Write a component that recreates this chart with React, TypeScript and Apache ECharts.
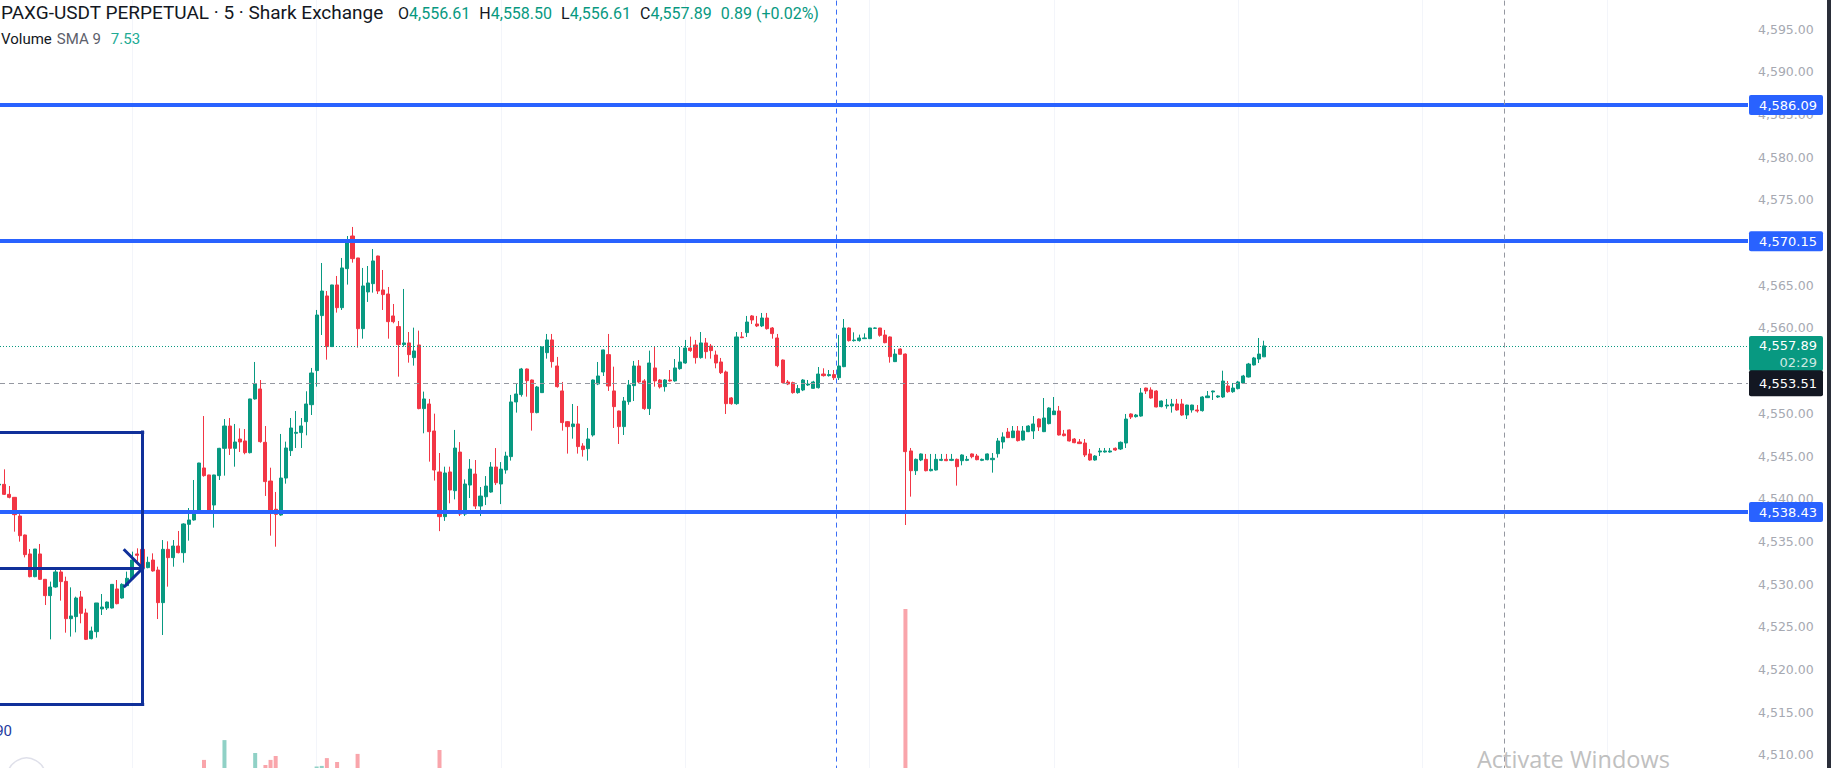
import React, { useEffect, useRef } from "react";
import * as echarts from "echarts";

// ---- candle data (5-minute bars), first value is bar index -1 ----
const FIRST_BAR = -1;
const opens: number[] = [
  4541.60, 4541.68, 4540.51, 4540.16, 4537.97, 4535.75, 4533.53, 4530.87, 4533.53, 4530.56,
  4528.65, 4529.66, 4531.42, 4530.32, 4525.95, 4526.19, 4528.49, 4526.62, 4523.61, 4524.43,
  4527.09, 4527.20, 4527.20, 4529.43, 4528.37, 4529.82, 4530.60, 4533.53, 4534.07, 4531.93,
  4532.82, 4531.65, 4527.83, 4534.07, 4533.10, 4534.46, 4533.68, 4537.00, 4537.51, 4538.36,
  4543.60, 4542.78, 4539.26, 4542.70, 4545.90, 4548.51, 4545.90, 4546.99, 4546.76, 4545.39,
  4551.68, 4552.85, 4546.60, 4542.07, 4538.76, 4538.09, 4542.42, 4545.63, 4547.66, 4547.74,
  4549.02, 4551.01, 4555.00, 4561.44, 4563.74, 4557.81, 4565.03, 4562.37, 4566.94, 4570.76,
  4568.19, 4559.91, 4564.21, 4565.18, 4568.42, 4564.44, 4563.97, 4561.40, 4560.15, 4558.04,
  4558.24, 4556.52, 4558.00, 4550.55, 4551.09, 4547.93, 4543.13, 4537.90, 4543.13, 4540.94,
  4545.46, 4538.20, 4541.60, 4542.89, 4539.14, 4540.23, 4540.78, 4543.71, 4541.72, 4543.36,
  4544.93, 4551.33, 4552.19, 4555.19, 4553.90, 4550.08, 4552.42, 4557.10, 4558.59, 4555.54,
  4552.62, 4549.02, 4548.44, 4548.75, 4546.17, 4545.86, 4547.46, 4553.43, 4554.84, 4556.87,
  4552.62, 4550.27, 4548.44, 4551.36, 4553.24, 4555.54, 4553.79, 4550.55, 4555.31, 4553.90,
  4553.12, 4553.90, 4553.79, 4555.23, 4555.89, 4557.65, 4558.00, 4556.52, 4558.24, 4557.88,
  4556.83, 4556.01, 4554.84, 4551.80, 4551.13, 4558.94, 4559.45, 4561.40, 4560.46, 4560.23,
  4561.16, 4559.99, 4558.82, 4556.24, 4553.67, 4553.59, 4552.42, 4552.73, 4553.32, 4552.92,
  4553.00, 4554.60, 4554.41, 4554.53, 4554.17, 4555.46, 4559.99, 4558.51, 4558.51, 4558.74,
  4558.74, 4559.95, 4559.99, 4559.17, 4558.94, 4556.05, 4557.53, 4556.94, 4545.59, 4543.28,
  4544.53, 4544.61, 4543.28, 4543.36, 4544.49, 4544.61, 4544.49, 4544.61, 4544.45, 4544.49,
  4545.24, 4545.00, 4544.49, 4544.57, 4544.57, 4545.27, 4546.64, 4547.81, 4547.15, 4547.93,
  4546.87, 4547.85, 4547.93, 4549.33, 4547.85, 4548.79, 4549.84, 4550.27, 4547.58, 4548.05,
  4546.99, 4546.64, 4546.52, 4545.24, 4544.53, 4545.47, 4545.47, 4545.47, 4545.90, 4545.82,
  4546.52, 4549.92, 4549.61, 4549.68, 4552.96, 4552.73, 4552.61, 4550.78, 4550.86, 4550.86,
  4551.09, 4551.09, 4549.80, 4550.39, 4550.39, 4550.31, 4551.83, 4552.50, 4551.91, 4551.91,
  4553.20, 4552.53, 4552.89, 4553.55, 4554.25, 4555.66, 4556.36, 4556.61,
];
const highs: number[] = [
  4541.90, 4543.44, 4541.49, 4540.20, 4538.20, 4535.80, 4534.11, 4534.11, 4534.70, 4530.60,
  4530.29, 4531.96, 4531.96, 4530.87, 4529.62, 4528.53, 4529.19, 4527.12, 4525.02, 4527.79,
  4528.84, 4527.95, 4530.00, 4530.48, 4530.09, 4531.46, 4533.80, 4534.19, 4534.19, 4533.21,
  4533.60, 4532.04, 4535.16, 4535.01, 4535.16, 4536.22, 4537.12, 4538.91, 4542.19, 4544.20,
  4549.68, 4542.80, 4542.80, 4545.95, 4549.33, 4549.45, 4548.75, 4548.24, 4548.16, 4551.70,
  4556.01, 4553.90, 4548.51, 4543.63, 4540.79, 4547.58, 4546.68, 4549.45, 4550.27, 4549.45,
  4552.58, 4555.31, 4562.10, 4567.60, 4564.32, 4565.05, 4566.08, 4568.19, 4570.76, 4571.82,
  4568.20, 4567.02, 4567.25, 4569.24, 4568.45, 4566.78, 4564.79, 4562.80, 4560.81, 4564.56,
  4559.52, 4560.03, 4559.68, 4552.54, 4551.68, 4549.96, 4545.35, 4543.75, 4543.75, 4548.05,
  4546.63, 4542.26, 4544.64, 4544.53, 4541.37, 4542.65, 4544.29, 4545.93, 4544.29, 4545.50,
  4552.15, 4553.43, 4555.31, 4555.25, 4553.95, 4553.20, 4557.80, 4559.29, 4559.29, 4556.60,
  4553.67, 4549.10, 4551.09, 4550.86, 4546.50, 4548.28, 4553.95, 4556.01, 4557.45, 4559.29,
  4555.46, 4550.30, 4551.91, 4553.90, 4556.13, 4556.24, 4554.00, 4557.34, 4557.77, 4554.00,
  4554.00, 4555.07, 4556.36, 4557.77, 4558.59, 4558.98, 4558.59, 4559.52, 4558.82, 4558.12,
  4557.34, 4556.48, 4555.00, 4551.90, 4559.52, 4559.52, 4561.40, 4561.50, 4561.40, 4561.75,
  4561.75, 4560.10, 4559.29, 4556.30, 4553.90, 4553.70, 4553.32, 4554.00, 4553.90, 4553.80,
  4555.42, 4555.27, 4555.07, 4555.07, 4559.17, 4561.04, 4560.05, 4559.48, 4559.21, 4559.36,
  4560.00, 4560.05, 4560.00, 4559.76, 4559.00, 4557.53, 4557.60, 4557.00, 4545.94, 4544.70,
  4545.30, 4545.24, 4545.24, 4545.24, 4545.24, 4545.24, 4545.24, 4544.70, 4545.20, 4545.00,
  4545.30, 4545.24, 4544.70, 4545.30, 4545.35, 4547.11, 4547.77, 4548.28, 4548.51, 4548.51,
  4548.51, 4548.60, 4549.68, 4549.40, 4551.79, 4550.70, 4551.91, 4550.86, 4548.05, 4548.10,
  4547.10, 4546.99, 4546.99, 4545.82, 4545.10, 4545.94, 4545.94, 4545.94, 4546.00, 4546.70,
  4549.92, 4550.00, 4549.92, 4552.96, 4553.00, 4553.04, 4552.70, 4551.50, 4551.68, 4551.68,
  4551.68, 4551.68, 4551.00, 4551.00, 4550.97, 4552.00, 4552.61, 4552.65, 4552.10, 4554.99,
  4553.78, 4553.55, 4553.80, 4554.50, 4555.90, 4556.60, 4558.82, 4558.50,
];
const lows: number[] = [
  4541.40, 4540.43, 4540.04, 4536.14, 4534.97, 4533.13, 4530.79, 4530.80, 4530.48, 4527.55,
  4523.53, 4529.58, 4528.06, 4524.31, 4523.85, 4524.35, 4525.41, 4523.45, 4523.53, 4523.73,
  4526.38, 4526.97, 4527.15, 4527.63, 4528.29, 4529.74, 4530.55, 4532.63, 4531.85, 4531.85,
  4531.46, 4525.91, 4524.04, 4529.70, 4532.04, 4533.60, 4532.51, 4535.09, 4537.43, 4538.30,
  4542.58, 4538.60, 4536.61, 4542.19, 4542.70, 4545.12, 4543.75, 4545.47, 4545.20, 4545.30,
  4551.60, 4546.56, 4540.32, 4535.67, 4534.38, 4538.00, 4541.76, 4545.00, 4545.94, 4545.94,
  4547.42, 4549.80, 4553.12, 4559.17, 4556.28, 4557.80, 4561.79, 4562.10, 4565.07, 4567.64,
  4557.69, 4558.74, 4563.04, 4564.13, 4563.97, 4562.10, 4558.74, 4560.54, 4554.29, 4557.81,
  4555.93, 4555.58, 4550.47, 4547.66, 4544.34, 4542.12, 4536.20, 4537.40, 4539.46, 4539.92,
  4537.97, 4537.97, 4540.08, 4538.79, 4537.97, 4539.26, 4540.70, 4541.60, 4539.37, 4542.93,
  4544.46, 4550.08, 4551.95, 4551.95, 4547.97, 4550.00, 4552.40, 4556.40, 4555.35, 4553.00,
  4547.97, 4545.28, 4547.03, 4545.28, 4544.93, 4544.46, 4547.27, 4553.30, 4554.37, 4552.62,
  4548.28, 4546.41, 4547.46, 4551.00, 4551.44, 4553.50, 4550.40, 4549.80, 4553.12, 4552.90,
  4552.54, 4553.70, 4553.70, 4555.10, 4555.80, 4557.20, 4555.82, 4556.40, 4556.40, 4556.40,
  4555.27, 4554.60, 4549.92, 4551.00, 4551.00, 4558.80, 4558.94, 4560.46, 4560.10, 4560.10,
  4559.80, 4558.74, 4555.40, 4553.50, 4553.30, 4552.30, 4552.30, 4552.60, 4553.20, 4552.88,
  4552.90, 4554.30, 4554.30, 4553.90, 4553.90, 4555.40, 4558.40, 4558.40, 4558.40, 4558.70,
  4558.70, 4559.90, 4558.97, 4558.20, 4555.93, 4556.00, 4556.90, 4536.92, 4540.24, 4542.78,
  4544.40, 4543.20, 4543.20, 4543.30, 4544.40, 4544.40, 4544.40, 4541.53, 4543.91, 4544.40,
  4544.73, 4544.50, 4544.40, 4544.50, 4543.05, 4544.81, 4545.86, 4547.10, 4547.10, 4546.70,
  4546.80, 4547.80, 4546.99, 4547.93, 4547.80, 4548.70, 4549.80, 4547.40, 4547.30, 4546.70,
  4546.50, 4546.40, 4544.88, 4544.45, 4544.45, 4545.00, 4545.40, 4545.40, 4545.60, 4545.70,
  4545.94, 4549.33, 4549.50, 4549.60, 4552.26, 4551.70, 4550.70, 4550.70, 4550.54, 4550.08,
  4550.30, 4549.70, 4549.33, 4550.08, 4550.08, 4550.20, 4551.80, 4551.56, 4551.80, 4551.80,
  4552.40, 4552.40, 4552.80, 4553.50, 4554.20, 4555.60, 4555.89, 4556.61,
];
const closes: number[] = [
  4541.70, 4540.51, 4540.16, 4538.13, 4535.67, 4533.45, 4530.87, 4534.11, 4530.56, 4528.65,
  4529.66, 4531.42, 4530.29, 4525.95, 4526.27, 4528.37, 4526.58, 4523.53, 4524.51, 4527.79,
  4527.32, 4527.90, 4529.97, 4527.71, 4529.97, 4530.68, 4532.82, 4533.37, 4531.93, 4532.55,
  4531.54, 4527.83, 4534.07, 4533.10, 4534.46, 4533.68, 4537.04, 4537.51, 4538.44, 4544.18,
  4542.70, 4538.68, 4542.78, 4545.90, 4548.51, 4545.90, 4546.64, 4546.64, 4545.39, 4551.68,
  4553.43, 4546.68, 4542.00, 4538.68, 4538.17, 4542.42, 4545.94, 4548.28, 4547.77, 4548.52,
  4551.09, 4554.72, 4561.51, 4564.32, 4557.81, 4565.03, 4562.37, 4567.02, 4570.26, 4568.11,
  4559.91, 4564.91, 4565.26, 4567.84, 4564.32, 4563.90, 4560.73, 4560.73, 4558.04, 4558.24,
  4556.87, 4557.30, 4550.55, 4551.68, 4547.85, 4543.36, 4537.90, 4543.01, 4541.02, 4545.93,
  4538.20, 4541.72, 4543.47, 4539.14, 4540.31, 4541.48, 4543.71, 4541.87, 4543.47, 4545.00,
  4551.33, 4552.26, 4555.19, 4553.82, 4550.08, 4553.08, 4557.77, 4558.59, 4556.05, 4553.12,
  4548.91, 4548.44, 4548.75, 4546.10, 4545.75, 4546.99, 4553.90, 4554.37, 4557.42, 4553.20,
  4550.78, 4548.44, 4551.44, 4553.32, 4555.54, 4553.67, 4550.55, 4555.89, 4553.79, 4553.08,
  4553.90, 4553.79, 4555.31, 4556.01, 4557.65, 4557.34, 4556.52, 4558.24, 4557.22, 4557.34,
  4555.89, 4554.76, 4551.13, 4551.13, 4558.94, 4558.86, 4560.69, 4560.93, 4560.23, 4561.16,
  4559.91, 4559.33, 4555.58, 4553.59, 4553.43, 4552.42, 4552.89, 4553.90, 4553.43, 4553.67,
  4554.60, 4554.41, 4554.53, 4554.17, 4555.54, 4559.99, 4558.51, 4558.58, 4558.82, 4558.82,
  4559.99, 4559.99, 4559.13, 4558.27, 4556.63, 4556.94, 4556.91, 4545.51, 4543.28, 4544.61,
  4545.24, 4543.28, 4543.44, 4544.61, 4544.61, 4544.45, 4544.61, 4543.75, 4545.12, 4544.61,
  4544.92, 4544.57, 4544.61, 4545.24, 4544.73, 4546.76, 4547.23, 4547.15, 4547.93, 4546.80,
  4547.93, 4548.51, 4548.75, 4548.40, 4549.45, 4550.62, 4550.27, 4547.46, 4547.38, 4546.76,
  4546.56, 4546.45, 4545.12, 4544.53, 4545.00, 4545.59, 4545.59, 4545.59, 4545.70, 4546.60,
  4549.33, 4549.57, 4549.80, 4552.38, 4552.61, 4551.79, 4550.74, 4551.44, 4550.97, 4551.09,
  4550.39, 4549.80, 4550.97, 4550.97, 4550.27, 4551.91, 4552.03, 4552.61, 4552.03, 4553.78,
  4552.53, 4552.96, 4553.67, 4554.37, 4555.77, 4556.48, 4556.94, 4557.89,
];

// volume bars that reach into the visible area (others are below the frame)
const volumeBarIndex = [39, 43, 49, 51, 52, 53, 61, 62, 63, 65, 69, 85, 176];
const volumeBarValue = [2.7, 9.3, 5, 1, 2.7, 4, 0.5, 0.7, 3.3, 2, 4.7, 6, 53];

// drawings / levels
const horizontalLevels = [4586.09, 4570.15, 4538.43];
const lastPrice = 4557.89;
const countdown = "02:29";
const crosshairPrice = 4553.51;
const crosshairBar = 293;
const sessionBreakBar = 162.5;
const timeGridBars = [25, 61, 97, 133, 169, 205, 241, 277, 313];
const boxTop = 4547.8;
const boxMid = 4531.85;
const boxBottom = 4515.9;
const boxEndBar = 27.03;

// legend
const legendTitle = "PAXG-USDT PERPETUAL · 5 · Shark Exchange";
const ohlcLabels = ["O", "H", "L", "C"];
const ohlcValues = ["4,556.61", "4,558.50", "4,556.61", "4,557.89"];
const changeText = "0.89 (+0.02%)";
const volumeSmaValue = "7.53";

// visible ranges
const X_MIN = -0.84;
const X_MAX = 340.56;
const Y_MIN = 4505;
const Y_MAX = 4600;

const UP = "#089981";
const DOWN = "#f23645";
const BLUE = "#2962ff";
const NAVY = "#10309a";
const VOL_UP = "#90d1c6";
const VOL_DOWN = "#f9a5ab";

const fmt = (v: number) => {
  const [a, b] = v.toFixed(2).split(".");
  return a.replace(/\B(?=(\d{3})+(?!\d))/g, ",") + "." + b;
};

export default function App() {
  const ref = useRef<HTMLDivElement>(null);

  useEffect(() => {
    const el = ref.current;
    if (!el) return;
    const chart = echarts.init(el, null, { renderer: "svg" });

    const candleData = opens.map((o, k) => [k + FIRST_BAR, o, closes[k], lows[k], highs[k]]);
    const volData = volumeBarIndex.map((b, k) => {
      const up = closes[b - FIRST_BAR] >= opens[b - FIRST_BAR];
      return { value: [b, volumeBarValue[k]], itemStyle: { color: up ? VOL_UP : VOL_DOWN } };
    });

    const navyStyle = { color: NAVY, width: 3, type: "solid", cap: "square" };
    const seg = (a: number[], b: number[]) => [
      { coord: a, lineStyle: navyStyle },
      { coord: b, lineStyle: navyStyle },
    ];

    chart.setOption({
      animation: false,
      backgroundColor: "#ffffff",
      grid: [
        { left: 0, right: 83, top: -13.7, bottom: -29.6, outerBoundsMode: "none", containLabel: false },
        { left: 0, right: 83, top: 0, bottom: 0, outerBoundsMode: "none", containLabel: false },
      ],
      xAxis: [
        { type: "value", gridIndex: 0, min: X_MIN, max: X_MAX, show: false },
        { type: "value", gridIndex: 1, min: X_MIN, max: X_MAX, show: false },
      ],
      yAxis: [
        {
          type: "value",
          gridIndex: 0,
          position: "right",
          min: Y_MIN,
          max: Y_MAX,
          interval: 5,
          axisLine: { show: false },
          axisTick: { show: false },
          splitLine: { show: false },
          axisLabel: {
            margin: 10,
            color: "#a6a9b2",
            fontSize: 12.5,
            fontFamily: "DejaVu Sans",
            showMinLabel: false,
            showMaxLabel: false,
            formatter: (v: number) => fmt(v),
          },
        },
        { type: "value", gridIndex: 1, min: 0, max: 256, show: false },
      ],
      series: [
        {
          type: "bar",
          name: "Volume",
          xAxisIndex: 1,
          yAxisIndex: 1,
          barWidth: 4,
          data: volData,
          z: 1,
          silent: true,
          markLine: {
            silent: true,
            symbol: ["none", "none"],
            z: 0,
            label: { show: false },
            lineStyle: { color: "#f3f5fa", width: 1, type: "solid" },
            data: timeGridBars.map((b) => ({ xAxis: b })),
          },
        },
        {
          type: "candlestick",
          name: "PAXG",
          xAxisIndex: 0,
          yAxisIndex: 0,
          data: candleData,
          barWidth: 3.6,
          z: 2,
          silent: true,
          itemStyle: { color: UP, color0: DOWN, borderColor: UP, borderColor0: DOWN, borderWidth: 1 },
          markLine: {
            silent: true,
            symbol: ["none", "none"],
            z: 5,
            label: { show: false },
            data: [
              ...horizontalLevels.map((v) => ({ yAxis: v, lineStyle: { color: BLUE, width: 4, type: "solid" } })),
              { yAxis: lastPrice, lineStyle: { color: UP, width: 1, type: [1, 2] } },
              { yAxis: crosshairPrice, lineStyle: { color: "#9598a1", width: 1, type: [5, 4] } },
              { xAxis: crosshairBar, lineStyle: { color: "#9598a1", width: 1, type: [5, 4] } },
              { xAxis: sessionBreakBar, lineStyle: { color: "#3b6ef5", width: 1, type: [5, 4] } },
              seg([X_MIN, boxTop], [boxEndBar, boxTop]),
              seg([X_MIN, boxBottom], [boxEndBar, boxBottom]),
              seg([X_MIN, boxMid], [boxEndBar, boxMid]),
              seg([boxEndBar, boxTop], [boxEndBar, boxBottom]),
            ],
          },
        },
      ],
    });

    const W = chart.getWidth();
    const H = chart.getHeight();
    const gridRight = W - 83;
    const yPx = (p: number) => chart.convertToPixel({ yAxisIndex: 0 }, p) as unknown as number;
    const pt = (x: number, y: number) => chart.convertToPixel({ gridIndex: 0 }, [x, y]) as unknown as number[];
    const boxX = gridRight + 1;
    const boxW = 74;
    const textX = boxX + boxW - 6;
    const labelText = (y: number, text: string, fill: string) => ({
      type: "text",
      z: 100,
      x: textX,
      y,
      style: {
        text,
        fill,
        fontSize: 13,
        fontFamily: "DejaVu Sans",
        align: "right",
        textAlign: "right",
        verticalAlign: "middle",
        textVerticalAlign: "middle",
      },
    });
    const labelRect = (y: number, h: number, fill: string) => ({
      type: "rect",
      z: 99,
      shape: { x: boxX, y, width: boxW, height: h, r: 2 },
      style: { fill },
    });

    const graphics: any[] = [];
    horizontalLevels.forEach((lv) => {
      const y = yPx(lv);
      graphics.push(labelRect(y - 10, 20, BLUE));
      graphics.push(labelText(y, fmt(lv), "#ffffff"));
    });
    const yl = yPx(lastPrice);
    graphics.push(labelRect(yl - 10, 35, UP));
    graphics.push(labelText(yl, fmt(lastPrice), "#ffffff"));
    graphics.push(labelText(yl + 17, countdown, "rgba(255,255,255,0.8)"));
    const yc = yPx(crosshairPrice);
    graphics.push(labelRect(yc - 13, 26, "#131722"));
    graphics.push(labelText(yc, fmt(crosshairPrice), "#ffffff"));

    // arrow head at the end of the box midline
    const tip = pt(boxEndBar, boxMid);
    graphics.push({
      type: "polyline",
      z: 98,
      shape: { points: [[tip[0] - 19, tip[1] - 19], [tip[0], tip[1]], [tip[0] - 19, tip[1] + 19]] },
      style: { stroke: NAVY, lineWidth: 3, fill: "none" },
    });
    const bl = pt(X_MIN, boxBottom);
    graphics.push({
      type: "text",
      z: 98,
      x: bl[0] + 12,
      y: bl[1] + 26,
      style: { text: "90", fill: "#1e3a9e", fontSize: 15, fontFamily: "Roboto", align: "right", textAlign: "right", verticalAlign: "middle", textVerticalAlign: "middle" },
    });

    // legend
    graphics.push({
      type: "text",
      z: 100,
      x: 1,
      y: 12,
      style: { text: legendTitle, fill: "#131722", fontSize: 19, fontFamily: "Roboto", verticalAlign: "middle", textVerticalAlign: "middle" },
    });
    const ohlcRich =
      ohlcLabels.map((l, k) => `{k|${l}}{v|${ohlcValues[k]}}`).join("{g| }") + `{g| }{v|${changeText}}`;
    graphics.push({
      type: "text",
      z: 100,
      x: 398,
      y: 13,
      style: {
        text: ohlcRich,
        fontSize: 16,
        fontFamily: "Roboto",
        verticalAlign: "middle",
        textVerticalAlign: "middle",
        rich: {
          k: { fill: "#131722", color: "#131722", fontSize: 16, fontFamily: "Roboto" },
          v: { fill: UP, color: UP, fontSize: 16, fontFamily: "Roboto" },
          g: { width: 9, fontSize: 16 },
        },
      },
    });
    graphics.push({
      type: "text",
      z: 100,
      x: 1,
      y: 39,
      style: {
        text: `{a|Volume}{s| }{b|SMA 9}{g| }{c|${volumeSmaValue}}`,
        fontSize: 15,
        fontFamily: "Roboto",
        verticalAlign: "middle",
        textVerticalAlign: "middle",
        rich: {
          a: { fill: "#131722", color: "#131722", fontSize: 15, fontFamily: "Roboto" },
          b: { fill: "#5d606b", color: "#5d606b", fontSize: 15, fontFamily: "Roboto" },
          c: { fill: "#22ab94", color: "#22ab94", fontSize: 15, fontFamily: "Roboto" },
          s: { width: 5, fontSize: 15 },
          g: { width: 10, fontSize: 15 },
        },
      },
    });

    // watermark, widget circle, right edge bar
    graphics.push({
      type: "text",
      z: 100,
      x: 1477,
      y: 759,
      style: { text: "Activate Windows", fill: "#c0c0c0", fontSize: 23.5, fontFamily: "Open Sans", verticalAlign: "middle", textVerticalAlign: "middle" },
    });
    graphics.push({
      type: "circle",
      z: 100,
      shape: { cx: 26.5, cy: 777, r: 19 },
      style: { fill: "none", stroke: "#dfe0ea", lineWidth: 1.5 },
    });
    graphics.push({
      type: "rect",
      z: 101,
      shape: { x: W - 4, y: 0, width: 4, height: H },
      style: { fill: "#2a2e39" },
    });

    chart.setOption({ graphic: graphics });

    return () => chart.dispose();
  }, []);

  return (
    <div
      ref={ref}
      style={{ position: "fixed", left: 0, top: 0, width: 1831, height: 768, background: "#ffffff" }}
    />
  );
}
